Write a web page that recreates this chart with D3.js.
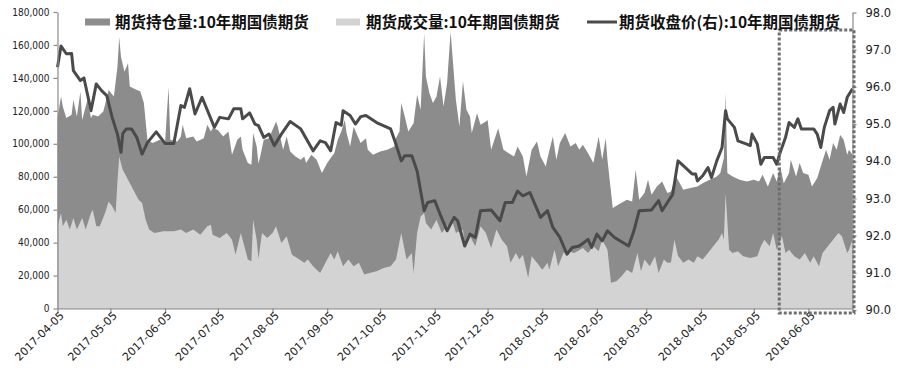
<!DOCTYPE html>
<html><head><meta charset="utf-8">
<script src="https://cdn.jsdelivr.net/npm/d3@7"></script>
<style>
html,body{margin:0;padding:0;background:#fff;}
svg{display:block;}
</style></head>
<body><svg id="chart" width="900" height="372"></svg>
<script>
// ---- data ----
const xTickLabels = ["2017-04-05","2017-05-05","2017-06-05","2017-07-05","2017-08-05","2017-09-05","2017-10-05","2017-11-05","2017-12-05","2018-01-05","2018-02-05","2018-03-05","2018-04-05","2018-05-05","2018-06-05"];
const leftTicks = [0,20000,40000,60000,80000,100000,120000,140000,160000,180000];
const rightTicks = [90,91,92,93,94,95,96,97,98];
const seriesNames = ["期货持仓量:10年期国债期货","期货成交量:10年期国债期货","期货收盘价(右):10年期国债期货"];

// 期货持仓量 (dark area)
const openInterest = [["2017-04-05",115600],["2017-04-07",128700],["2017-04-08",122600],["2017-04-10",115600],["2017-04-13",117600],["2017-04-14",126700],["2017-04-16",116500],["2017-04-18",131700],["2017-04-19",114500],["2017-04-22",126700],["2017-04-24",115600],["2017-04-25",117600],["2017-04-28",116500],["2017-05-01",119600],["2017-05-04",132700],["2017-05-07",128700],["2017-05-09",146800],["2017-05-10",164600],["2017-05-11",152900],["2017-05-13",143800],["2017-05-15",148900],["2017-05-16",134700],["2017-05-18",133700],["2017-05-22",131700],["2017-05-24",124700],["2017-05-26",102400],["2017-05-29",100400],["2017-06-02",102400],["2017-06-05",100400],["2017-06-07",134400],["2017-06-08",102400],["2017-06-12",101400],["2017-06-14",104400],["2017-06-15",111500],["2017-06-17",103400],["2017-06-21",104400],["2017-06-23",101400],["2017-06-27",103400],["2017-06-29",111500],["2017-07-01",107400],["2017-07-02",109400],["2017-07-05",108400],["2017-07-08",104400],["2017-07-11",107400],["2017-07-13",93300],["2017-07-16",102400],["2017-07-18",104400],["2017-07-19",96400],["2017-07-22",88300],["2017-07-24",87300],["2017-07-25",106500],["2017-07-27",98400],["2017-07-28",88000],["2017-07-29",92300],["2017-07-31",102400],["2017-08-03",103400],["2017-08-05",108500],["2017-08-07",113500],["2017-08-08",110400],["2017-08-11",96400],["2017-08-13",104400],["2017-08-15",95300],["2017-08-18",92300],["2017-08-21",90300],["2017-08-23",92300],["2017-08-24",88300],["2017-08-27",93300],["2017-08-30",90300],["2017-09-02",82200],["2017-09-05",88300],["2017-09-07",91300],["2017-09-09",94300],["2017-09-11",102400],["2017-09-13",107400],["2017-09-15",114500],["2017-09-16",106500],["2017-09-18",98400],["2017-09-20",110400],["2017-09-22",105400],["2017-09-24",100400],["2017-09-27",103400],["2017-09-28",96400],["2017-10-01",93300],["2017-10-05",95300],["2017-10-09",96400],["2017-10-13",98400],["2017-10-14",103400],["2017-10-16",107400],["2017-10-17",124700],["2017-10-19",116500],["2017-10-21",107400],["2017-10-24",112500],["2017-10-26",129700],["2017-10-28",120600],["2017-10-30",167100],["2017-10-31",140800],["2017-11-02",130700],["2017-11-04",124700],["2017-11-06",128700],["2017-11-08",140800],["2017-11-10",122600],["2017-11-12",136800],["2017-11-14",168000],["2017-11-17",126700],["2017-11-19",110500],["2017-11-21",138000],["2017-11-23",120600],["2017-11-25",116500],["2017-11-26",106500],["2017-11-29",118600],["2017-12-01",111500],["2017-12-04",113500],["2017-12-05",114500],["2017-12-07",96400],["2017-12-11",109500],["2017-12-14",96400],["2017-12-17",94300],["2017-12-20",92300],["2017-12-22",98400],["2017-12-25",92300],["2017-12-27",80200],["2017-12-30",96400],["2018-01-02",101400],["2018-01-04",92300],["2018-01-07",86200],["2018-01-08",91300],["2018-01-11",104400],["2018-01-13",90300],["2018-01-15",100400],["2018-01-18",106500],["2018-01-21",98400],["2018-01-24",100400],["2018-01-26",96400],["2018-01-28",99400],["2018-01-31",94300],["2018-02-03",88300],["2018-02-06",104400],["2018-02-08",90300],["2018-02-10",103400],["2018-02-11",90300],["2018-02-14",61000],["2018-02-17",63000],["2018-02-22",66000],["2018-02-25",65000],["2018-02-27",84200],["2018-03-01",66000],["2018-03-04",70100],["2018-03-06",78200],["2018-03-08",69100],["2018-03-11",74100],["2018-03-14",77100],["2018-03-17",70100],["2018-03-19",71100],["2018-03-22",80000],["2018-03-26",72100],["2018-03-30",73100],["2018-04-03",74100],["2018-04-06",76100],["2018-04-10",78200],["2018-04-14",80200],["2018-04-16",82200],["2018-04-18",91300],["2018-04-19",130700],["2018-04-20",82200],["2018-04-23",80200],["2018-04-27",78200],["2018-05-01",77100],["2018-05-05",78200],["2018-05-08",77100],["2018-05-10",81200],["2018-05-13",74100],["2018-05-16",82200],["2018-05-18",77100],["2018-05-20",86200],["2018-05-22",76100],["2018-05-25",82200],["2018-05-26",90300],["2018-05-29",80200],["2018-05-31",88300],["2018-06-02",82200],["2018-06-05",81200],["2018-06-07",74100],["2018-06-10",79200],["2018-06-12",86200],["2018-06-15",96400],["2018-06-17",90300],["2018-06-19",100400],["2018-06-21",96400],["2018-06-23",105400],["2018-06-25",102400],["2018-06-27",93300],["2018-06-28",96400],["2018-06-30",93300]];

// 期货成交量 (light area)
const volume = [["2017-04-05",49900],["2017-04-07",58000],["2017-04-08",49900],["2017-04-10",53900],["2017-04-12",47900],["2017-04-14",54900],["2017-04-16",47900],["2017-04-19",54900],["2017-04-21",47900],["2017-04-24",58000],["2017-04-25",60000],["2017-04-27",49900],["2017-04-29",49900],["2017-05-02",58000],["2017-05-04",65000],["2017-05-06",62000],["2017-05-08",58000],["2017-05-09",77100],["2017-05-10",92300],["2017-05-12",84200],["2017-05-15",78200],["2017-05-18",72100],["2017-05-21",66000],["2017-05-23",64000],["2017-05-25",53900],["2017-05-27",47900],["2017-05-30",45900],["2017-06-04",46900],["2017-06-10",46900],["2017-06-14",47900],["2017-06-17",45900],["2017-06-21",47900],["2017-06-25",44800],["2017-06-29",49900],["2017-07-01",50900],["2017-07-02",44800],["2017-07-06",42800],["2017-07-10",45900],["2017-07-13",41800],["2017-07-15",32700],["2017-07-18",45900],["2017-07-20",37800],["2017-07-22",29700],["2017-07-24",28700],["2017-07-25",53900],["2017-07-27",41800],["2017-07-28",30000],["2017-07-30",45900],["2017-08-02",42800],["2017-08-05",45900],["2017-08-07",49900],["2017-08-10",39800],["2017-08-13",43800],["2017-08-16",32700],["2017-08-19",30700],["2017-08-23",27700],["2017-08-25",29700],["2017-08-28",25600],["2017-09-01",21600],["2017-09-04",27700],["2017-09-07",33700],["2017-09-09",29700],["2017-09-11",34700],["2017-09-14",25600],["2017-09-17",29700],["2017-09-20",25600],["2017-09-23",27700],["2017-09-26",20600],["2017-09-29",21600],["2017-10-03",22600],["2017-10-07",24600],["2017-10-11",25600],["2017-10-14",29700],["2017-10-17",45900],["2017-10-20",29700],["2017-10-23",33700],["2017-10-24",21600],["2017-10-26",45900],["2017-10-28",55900],["2017-10-30",58000],["2017-10-31",51900],["2017-11-03",47900],["2017-11-06",53900],["2017-11-09",45900],["2017-11-12",49900],["2017-11-15",52900],["2017-11-17",45900],["2017-11-21",47900],["2017-11-22",39800],["2017-11-25",44000],["2017-11-28",37800],["2017-12-01",49900],["2017-12-04",45900],["2017-12-07",36800],["2017-12-10",47900],["2017-12-13",41800],["2017-12-16",37800],["2017-12-18",27700],["2017-12-21",33700],["2017-12-23",29700],["2017-12-25",32700],["2017-12-28",18600],["2017-12-30",31700],["2018-01-02",27700],["2018-01-05",23600],["2018-01-08",27700],["2018-01-09",23600],["2018-01-12",35700],["2018-01-14",25600],["2018-01-17",33700],["2018-01-20",34700],["2018-01-23",33700],["2018-01-25",34700],["2018-01-28",36800],["2018-01-31",33700],["2018-02-03",37800],["2018-02-06",34700],["2018-02-08",41800],["2018-02-11",35700],["2018-02-13",15600],["2018-02-16",16600],["2018-02-19",19600],["2018-02-22",23600],["2018-02-25",21600],["2018-02-28",33700],["2018-03-02",22600],["2018-03-04",29700],["2018-03-07",25600],["2018-03-10",31700],["2018-03-12",21600],["2018-03-15",29700],["2018-03-17",27700],["2018-03-19",28000],["2018-03-21",41800],["2018-03-23",32000],["2018-03-26",27700],["2018-03-29",29700],["2018-04-01",27700],["2018-04-03",31700],["2018-04-06",29700],["2018-04-09",33700],["2018-04-12",37800],["2018-04-15",41800],["2018-04-17",45900],["2018-04-18",41800],["2018-04-19",70100],["2018-04-21",35700],["2018-04-23",33700],["2018-04-26",34700],["2018-04-29",31700],["2018-05-03",30700],["2018-05-07",31700],["2018-05-09",37800],["2018-05-11",41800],["2018-05-14",37800],["2018-05-16",45900],["2018-05-18",35700],["2018-05-21",43800],["2018-05-23",33700],["2018-05-25",35700],["2018-05-28",31700],["2018-05-31",29700],["2018-06-03",33700],["2018-06-06",27700],["2018-06-08",31700],["2018-06-11",25600],["2018-06-13",33700],["2018-06-16",37800],["2018-06-19",41800],["2018-06-22",45900],["2018-06-24",43800],["2018-06-27",33700],["2018-06-28",35700],["2018-06-30",41800]];

// 期货收盘价 (right axis line)
const closePrice = [["2017-04-05",96.53],["2017-04-07",97.1],["2017-04-10",96.89],["2017-04-13",96.9],["2017-04-14",96.44],["2017-04-18",96.17],["2017-04-20",96.24],["2017-04-24",95.36],["2017-04-27",96.08],["2017-04-30",95.9],["2017-05-03",95.76],["2017-05-06",95.18],["2017-05-09",94.73],["2017-05-11",94.24],["2017-05-12",94.74],["2017-05-14",94.87],["2017-05-17",94.87],["2017-05-20",94.64],["2017-05-23",94.19],["2017-05-26",94.5],["2017-05-31",94.79],["2017-06-05",94.48],["2017-06-10",94.48],["2017-06-14",95.5],["2017-06-16",95.45],["2017-06-19",95.95],["2017-06-22",95.27],["2017-06-26",95.72],["2017-07-03",94.91],["2017-07-06",95.18],["2017-07-11",95.14],["2017-07-14",95.41],["2017-07-18",95.41],["2017-07-19",95.14],["2017-07-23",95.3],["2017-07-26",95.0],["2017-07-28",94.96],["2017-07-31",94.64],["2017-08-03",94.73],["2017-08-06",94.42],["2017-08-10",94.73],["2017-08-15",95.07],["2017-08-21",94.87],["2017-08-28",94.28],["2017-09-01",94.55],["2017-09-04",94.5],["2017-09-07",94.28],["2017-09-10",95.04],["2017-09-13",94.97],["2017-09-14",95.36],["2017-09-18",95.23],["2017-09-21",95.0],["2017-09-24",95.2],["2017-09-27",95.23],["2017-10-03",95.04],["2017-10-11",94.87],["2017-10-14",94.46],["2017-10-17",94.01],["2017-10-19",94.15],["2017-10-23",94.15],["2017-10-26",93.74],["2017-10-28",93.2],["2017-10-30",92.67],["2017-11-01",92.89],["2017-11-05",92.94],["2017-11-08",92.58],["2017-11-12",92.13],["2017-11-16",92.49],["2017-11-18",92.4],["2017-11-22",91.72],["2017-11-25",92.04],["2017-11-28",91.95],["2017-12-01",92.67],["2017-12-07",92.69],["2017-12-12",92.4],["2017-12-15",92.89],["2017-12-19",92.89],["2017-12-22",93.2],["2017-12-25",93.07],["2017-12-29",93.16],["2018-01-04",92.49],["2018-01-08",92.67],["2018-01-11",92.22],["2018-01-15",91.95],["2018-01-19",91.5],["2018-01-22",91.68],["2018-01-26",91.72],["2018-01-31",91.9],["2018-02-02",91.68],["2018-02-05",92.04],["2018-02-08",91.86],["2018-02-11",92.13],["2018-02-15",91.95],["2018-02-23",91.72],["2018-02-26",92.13],["2018-03-01",92.67],["2018-03-08",92.69],["2018-03-12",92.94],["2018-03-14",92.67],["2018-03-17",92.89],["2018-03-20",93.11],["2018-03-23",94.01],["2018-03-26",93.88],["2018-03-31",93.66],["2018-04-02",93.66],["2018-04-03",93.47],["2018-04-06",93.61],["2018-04-09",93.83],["2018-04-11",93.56],["2018-04-14",94.01],["2018-04-17",94.37],["2018-04-19",95.36],["2018-04-20",95.14],["2018-04-24",94.91],["2018-04-26",94.55],["2018-05-01",94.46],["2018-05-03",94.42],["2018-05-04",94.73],["2018-05-07",94.46],["2018-05-09",93.92],["2018-05-11",94.1],["2018-05-16",94.1],["2018-05-18",93.92],["2018-05-20",94.24],["2018-05-23",94.64],["2018-05-25",95.04],["2018-05-28",94.91],["2018-05-30",95.14],["2018-06-01",94.87],["2018-06-08",94.87],["2018-06-10",94.73],["2018-06-12",94.37],["2018-06-14",94.91],["2018-06-17",95.36],["2018-06-19",95.45],["2018-06-20",95.0],["2018-06-23",95.54],["2018-06-25",95.31],["2018-06-27",95.72],["2018-06-30",95.95]];

// highlighted window (dotted box)
const highlightRange = ["2018-05-20","2018-06-30"];

// ---- drawing ----
const parse = d3.timeParse("%Y-%m-%d");
const W = 900, H = 372;
const m = {left: 57.5, right: 852.5, top: 12, bottom: 308.5};
const colors = {oi: "#8c8c8c", vol: "#d3d3d3", line: "#4a4a4a", axis: "#8a8a8a", box: "#6e6e6e"};

const svg = d3.select("#chart");

const x = d3.scaleTime()
  .domain([parse("2017-04-05"), parse("2018-06-30")])
  .range([m.left, m.right]);
const yL = d3.scaleLinear().domain([0, 180000]).range([m.bottom, m.top]);
const yR = d3.scaleLinear().domain([90, 98]).range([m.bottom + 1.5, m.top + 0.5]);

const oiD = openInterest.map(d => ({date: parse(d[0]), v: d[1]}));
const volD = volume.map(d => ({date: parse(d[0]), v: d[1]}));
const prD = closePrice.map(d => ({date: parse(d[0]), v: d[1]}));

const areaL = d3.area().x(d => x(d.date)).y0(yL(0)).y1(d => yL(d.v));
svg.append("path").datum(oiD).attr("d", areaL).attr("fill", colors.oi);
svg.append("path").datum(volD).attr("d", areaL).attr("fill", colors.vol);

const lineR = d3.line().x(d => x(d.date)).y(d => yR(d.v));
svg.append("path").datum(prD).attr("d", lineR)
  .attr("fill", "none").attr("stroke", colors.line)
  .attr("stroke-width", 3).attr("stroke-linejoin", "round");

// left axis
const gL = svg.append("g").attr("transform", `translate(${m.left},0)`)
  .call(d3.axisLeft(yL).tickValues(leftTicks).tickSize(4).tickSizeOuter(0).tickPadding(4)
        .tickFormat(d3.format(",")));
// right axis
const gR = svg.append("g").attr("transform", `translate(${m.right},0)`)
  .call(d3.axisRight(yR).tickValues(rightTicks).tickSize(4).tickSizeOuter(0).tickPadding(9)
        .tickFormat(d3.format(".1f")));
// bottom axis
const gB = svg.append("g").attr("transform", `translate(0,${m.bottom})`)
  .call(d3.axisBottom(x).tickValues(xTickLabels.map(parse)).tickSize(5).tickSizeOuter(0)
        .tickFormat(d3.timeFormat("%Y-%m-%d")));

[gL, gR, gB].forEach(g => {
  g.select(".domain").attr("stroke", colors.axis).attr("stroke-width", 1.2);
  g.selectAll(".tick line").attr("stroke", colors.axis).attr("stroke-width", 1.2);
  g.selectAll("text").attr("fill", "#222");
});
gL.selectAll("text").attr("font-family", "'DejaVu Sans Condensed','DejaVu Sans',sans-serif").attr("font-size", 10);
gR.selectAll("text").attr("font-family", "'DejaVu Sans',sans-serif").attr("font-size", 11.5);
gB.selectAll("text")
  .attr("font-family", "'DejaVu Sans',sans-serif").attr("font-size", 11)
  .attr("text-anchor", "end")
  .attr("transform", "translate(4,5) rotate(-45)")
  .attr("dy", "0.35em").attr("dx", "0").attr("y", 0).attr("x", 0);

// dotted highlight box
const bx0 = x(parse(highlightRange[0])), bx1 = x(parse(highlightRange[1]));
svg.append("rect")
  .attr("x", bx0 - 1).attr("y", 30)
  .attr("width", bx1 - bx0 + 2.5).attr("height", 313 - 30)
  .attr("fill", "none").attr("stroke", colors.box)
  .attr("stroke-width", 3).attr("stroke-dasharray", "3,2");

// legend
const lg = svg.append("g").attr("font-family", "'Noto Sans CJK SC',sans-serif")
  .attr("font-weight", "bold").attr("font-size", 15.5).attr("fill", "#111");
lg.append("rect").attr("x", 85).attr("y", 18.5).attr("width", 25).attr("height", 7).attr("fill", colors.oi);
lg.append("text").attr("x", 115).attr("y", 22).attr("dy", "0.36em").text(seriesNames[0]);
lg.append("rect").attr("x", 336).attr("y", 18.5).attr("width", 24).attr("height", 7).attr("fill", colors.vol);
lg.append("text").attr("x", 366).attr("y", 22).attr("dy", "0.36em").text(seriesNames[1]);
lg.append("line").attr("x1", 587).attr("x2", 617).attr("y1", 22).attr("y2", 22)
  .attr("stroke", colors.line).attr("stroke-width", 3);
lg.append("text").attr("x", 619).attr("y", 22).attr("dy", "0.36em").text(seriesNames[2]);
</script></body></html>
